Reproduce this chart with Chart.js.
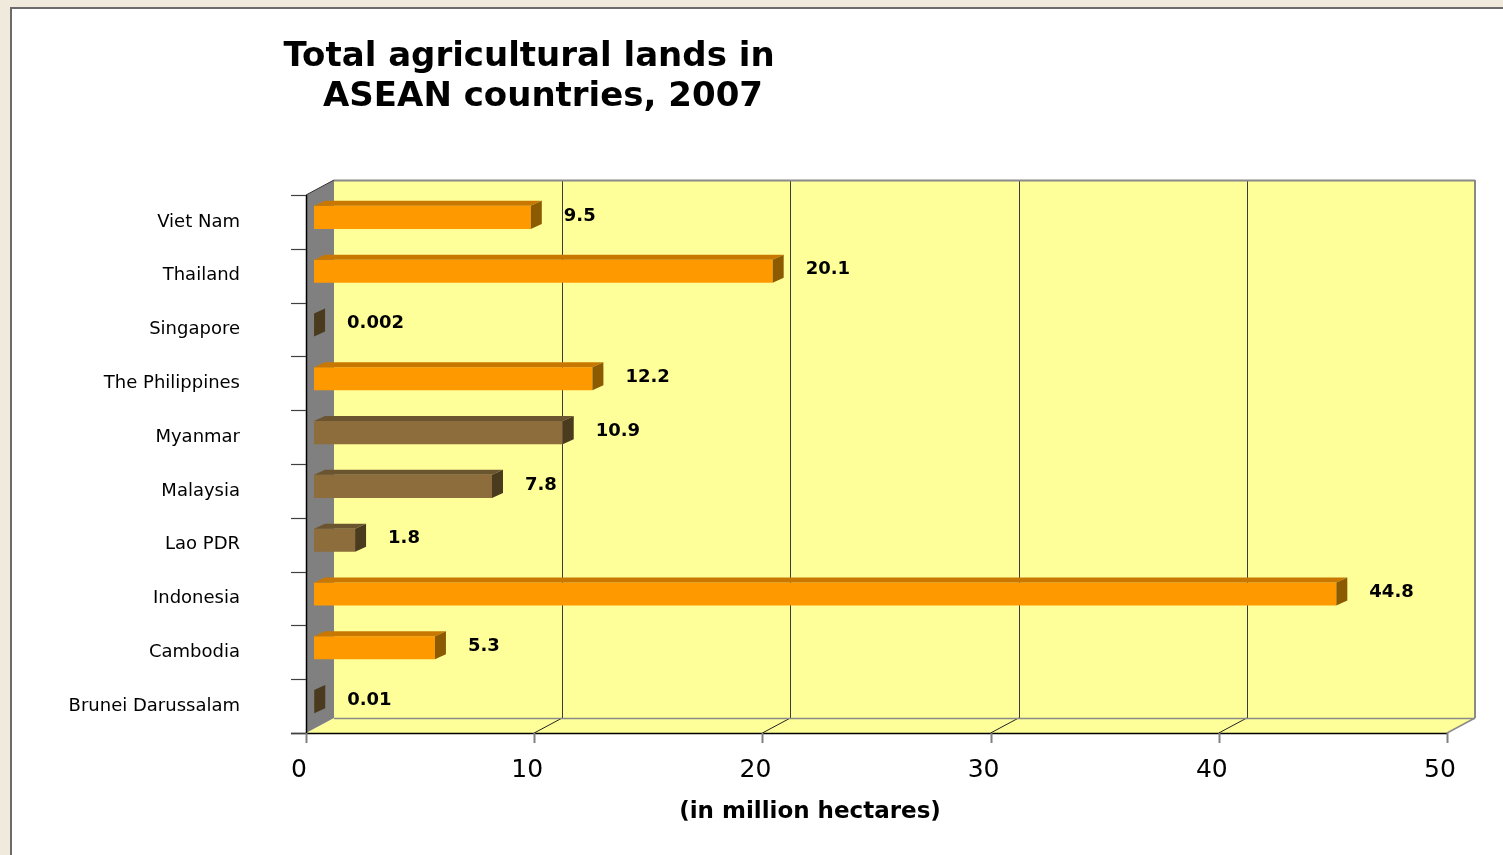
<!DOCTYPE html>
<html><head><meta charset="utf-8">
<script src="https://cdn.jsdelivr.net/npm/chart.js@4/dist/chart.umd.min.js"></script>
<style>
html,body{margin:0;padding:0;width:1503px;height:855px;overflow:hidden;background:#EFEADB;}
#panel{position:absolute;left:10px;top:7px;width:1500px;height:860px;background:#fff;border:2px solid #6b6b6b;box-sizing:border-box;}
#wrap{position:absolute;left:0;top:0;width:1503px;height:855px;}
</style></head><body>
<div id="panel"></div>
<div id="wrap"><canvas id="c" width="1503" height="855"></canvas></div>
<script>
const categories = ["Viet Nam","Thailand","Singapore","The Philippines","Myanmar","Malaysia","Lao PDR","Indonesia","Cambodia","Brunei Darussalam"];
const values = [9.5, 20.1, 0.002, 12.2, 10.9, 7.8, 1.8, 44.8, 5.3, 0.01];
const valueLabels = ["9.5","20.1","0.002","12.2","10.9","7.8","1.8","44.8","5.3","0.01"];
const groups = ["orange","orange","brown","orange","brown","brown","brown","orange","orange","brown"];
const xTicks = [0, 10, 20, 30, 40, 50];
const titleLines = ["Total agricultural lands in", "ASEAN countries, 2007"];
const xTitle = "(in million hectares)";

const palette = {
  orange: {front:'#FF9900', top:'#C87800', side:'#8C5A00'},
  brown:  {front:'#8C6D3B', top:'#6B5530', side:'#4B3B1E'}
};
const DX = 28, DY = 15;     // wall depth
const BX = 8, BY = 4.5;     // bar offset into depth
const FX = 11, FY = 5;      // bar depth

function poly(ctx, pts, fill, stroke, lw){
  ctx.beginPath();
  ctx.moveTo(pts[0][0], pts[0][1]);
  for (let i=1;i<pts.length;i++) ctx.lineTo(pts[i][0], pts[i][1]);
  ctx.closePath();
  if (fill){ ctx.fillStyle = fill; ctx.fill(); }
  if (stroke){ ctx.strokeStyle = stroke; ctx.lineWidth = lw||1; ctx.stroke(); }
}
function line(ctx, x1,y1,x2,y2, color, lw){
  ctx.beginPath(); ctx.moveTo(x1,y1); ctx.lineTo(x2,y2);
  ctx.strokeStyle = color; ctx.lineWidth = lw||1; ctx.stroke();
}

const threeD = {
  id: 'threeD',
  beforeDatasetsDraw(chart){
    const {ctx, chartArea:a, scales} = chart;
    const x = scales.x;
    const L = a.left, R = a.right, T = a.top, B = a.bottom;
    ctx.save();
    // back wall
    ctx.fillStyle = '#FFFF99';
    ctx.fillRect(L+DX, T-DY, R-L, B-T);
    // floor
    poly(ctx, [[L,B],[R,B],[R+DX,B-DY],[L+DX,B-DY]], '#FFFF99');
    // side wall
    poly(ctx, [[L,T],[L+DX,T-DY],[L+DX,B-DY],[L,B]], '#808080');
    // back gridlines and floor diagonals
    xTicks.forEach(v => {
      if (v === 0 || v === 50) return;
      const px = Math.round(x.getPixelForValue(v)+DX)+0.5;
      line(ctx, px, T-DY, px, B-DY, '#3c3c3c', 1);
      line(ctx, x.getPixelForValue(v), B, x.getPixelForValue(v)+DX, B-DY, '#222', 1);
    });
    // wall outlines
    line(ctx, L+DX, T-DY+0.5, R+DX, T-DY+0.5, '#8a8a8a', 2);
    line(ctx, R+DX, T-DY, R+DX, B-DY, '#8a8a8a', 2);
    line(ctx, L+DX, B-DY+0.5, R+DX, B-DY+0.5, '#8a8a8a', 1.5);
    line(ctx, R, B, R+DX, B-DY, '#8a8a8a', 1.5);
    line(ctx, L, T, L+DX, T-DY, '#333', 1);
    // axis lines
    line(ctx, L-15, B+0.5, R, B+0.5, '#000', 1.5);
    line(ctx, L+0.5, T, L+0.5, B, '#000', 1.5);
    // category tick marks
    const n = categories.length;
    for (let i=0;i<=n;i++){
      const yy = Math.round(T + i*(B-T)/n)+0.5;
      line(ctx, L-15, yy, L, yy, '#404040', 1.2);
    }
    // x tick marks
    xTicks.forEach(v => {
      const px = Math.round(x.getPixelForValue(v))+0.5;
      line(ctx, px, B, px, B+10, '#808080', 2);
    });
    // chart title
    ctx.fillStyle = '#000';
    ctx.font = 'bold 34px "DejaVu Sans"';
    ctx.textAlign = 'center';
    ctx.textBaseline = 'alphabetic';
    ctx.fillText(titleLines[0], 529, 66);
    ctx.fillText(titleLines[1], 543, 106);
    // x axis title
    ctx.font = 'bold 23px "DejaVu Sans"';
    ctx.textBaseline = 'middle';
    ctx.fillText(xTitle, 810, 812);
    ctx.restore();
    ctx.save();
    ctx.translate(BX, -BY);
  },
  afterDatasetsDraw(chart){
    const {ctx} = chart;
    const meta = chart.getDatasetMeta(0);
    meta.data.forEach((el, i) => {
      const p = el.getProps(['x','y','base','height'], true);
      const c = palette[groups[i]];
      const top = p.y - p.height/2, bot = p.y + p.height/2;
      poly(ctx, [[p.base, top],[p.x, top],[p.x+FX, top-FY],[p.base+FX, top-FY]], c.top);
      poly(ctx, [[p.x, top],[p.x+FX, top-FY],[p.x+FX, bot-FY],[p.x, bot]], c.side);
    });
    ctx.restore();
    ctx.save();
    ctx.fillStyle = '#000';
    ctx.font = 'bold 18px "DejaVu Sans"';
    ctx.textAlign = 'left';
    ctx.textBaseline = 'middle';
    meta.data.forEach((el, i) => {
      const p = el.getProps(['x','y'], true);
      ctx.fillText(valueLabels[i], p.x + BX + FX + 22, p.y - 6);
    });
    ctx.restore();
  }
};

new Chart(document.getElementById('c'), {
  type: 'bar',
  data: {
    labels: categories,
    datasets: [{
      data: values,
      backgroundColor: groups.map(g => palette[g].front),
      borderWidth: 0,
      barPercentage: 0.43,
      categoryPercentage: 1
    }]
  },
  options: {
    indexAxis: 'y',
    responsive: false,
    animation: false,
    devicePixelRatio: 1,
    layout: {padding: {left: 0, right: 56, top: 195, bottom: 0}},
    plugins: {legend: {display: false}, tooltip: {enabled: false}, title: {display: false}},
    scales: {
      x: {
        min: 0, max: 50,
        afterBuildTicks: s => { s.ticks = xTicks.map(v => ({value: v})); },
        grid: {display: false, drawTicks: false},
        border: {display: false},
        ticks: {font: {family: 'DejaVu Sans', size: 25}, color: '#000', padding: 22, labelOffset: -7, maxRotation: 0, autoSkip: false},
        title: {display: false, text: xTitle},
        afterFit: s => { s.height = 122; }
      },
      y: {
        grid: {display: false, drawTicks: false},
        border: {display: false},
        ticks: {font: {family: 'DejaVu Sans', size: 18}, color: '#000', padding: 66, autoSkip: false},
        afterFit: s => { s.width = 306; }
      }
    }
  },
  plugins: [threeD]
});
</script>
</body></html>
